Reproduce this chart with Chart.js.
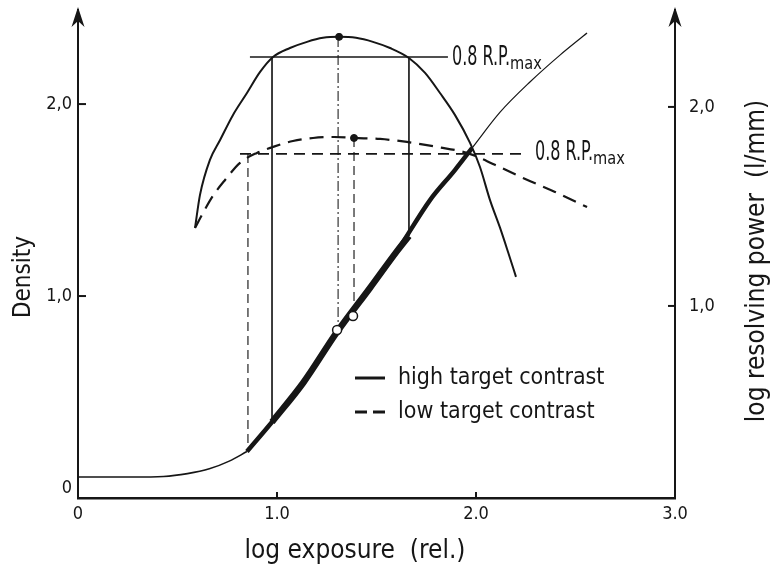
<!DOCTYPE html>
<html>
<head>
<meta charset="utf-8">
<script src="https://cdn.jsdelivr.net/npm/chart.js@4.4.1/dist/chart.umd.min.js"></script>
<style>
  html, body { margin: 0; padding: 0; background: #fff; }
</style>
</head>
<body>
<canvas id="chart" width="779" height="573"></canvas>
<script>
// ===== DATA =====
const xTicks = [0, 1, 2, 3];
const xTickLabels = ['0', '1.0', '2.0', '3.0'];
const densityTicks = [0, 1, 2];
const densityTickLabels = ['0', '1,0', '2,0'];
const rpTicks = [1, 2];
const rpTickLabels = ['1,0', '2,0'];

// characteristic curve (log exposure -> density)
const toeLogE = [0, 0.276, 0.43, 0.55, 0.66, 0.76, 0.849];
const toeDensity = [0.057, 0.057, 0.06, 0.075, 0.1, 0.14, 0.19];
const lowRangeLogE = [0.849, 0.975, 1.131, 1.302, 1.467, 1.603, 1.769, 1.894, 1.98];
const lowRangeDensity = [0.19, 0.344, 0.547, 0.813, 1.042, 1.234, 1.5, 1.656, 1.771];
const highRangeLogE = [0.975, 1.131, 1.302, 1.467, 1.603, 1.663];
const highRangeDensity = [0.344, 0.547, 0.813, 1.042, 1.234, 1.313];
const shoulderLogE = [1.98, 2.121, 2.271, 2.422, 2.558];
const shoulderDensity = [1.771, 1.958, 2.115, 2.255, 2.37];

// log resolving power, high target contrast
const rpHighLogE = [0.588, 0.613, 0.663, 0.714, 0.779, 0.849, 0.915, 0.98, 1.065, 1.151, 1.231, 1.312,
  1.397, 1.482, 1.568, 1.663, 1.744, 1.819, 1.894, 1.97, 2.02, 2.07, 2.121, 2.161, 2.201];
const rpHigh = [1.392, 1.558, 1.734, 1.834, 1.96, 2.07, 2.176, 2.251, 2.296, 2.327, 2.347, 2.352,
  2.347, 2.327, 2.296, 2.246, 2.171, 2.07, 1.96, 1.819, 1.698, 1.533, 1.392, 1.271, 1.146];

// log resolving power, low target contrast
const rpLowLogE = [0.588, 0.628, 0.678, 0.739, 0.814, 0.899, 0.98, 1.08, 1.181, 1.286, 1.387,
  1.518, 1.653, 1.804, 1.955, 2.095, 2.236, 2.397, 2.558];
const rpLow = [1.392, 1.467, 1.553, 1.633, 1.719, 1.769, 1.799, 1.829, 1.844, 1.849, 1.844,
  1.839, 1.824, 1.799, 1.769, 1.709, 1.643, 1.573, 1.497];

// 0.8 R.P.max levels and their extent on the exposure axis
const rpHighLevel = 2.251;
const rpHighLevelSpan = [0.864, 1.859];
const rpLowLevel = 1.764;
const rpLowLevelSpan = [0.814, 2.256];

// drop lines from the resolving power curves to the density curve (density units)
const highDropLogE = [0.975, 1.663];
const highDropTop = [2.245, 2.24];
const highDropBottom = [0.344, 1.313];
const peakDropLogE = [1.307];
const peakDropTop = [2.349];
const peakDropBottom = [0.823];
const lowDropLogE = [0.854, 1.387];
const lowDropTop = [1.74, 1.823];
const lowDropBottom = [0.193, 0.896];

// maxima and their projections
const peakLogE = [1.312, 1.387];
const peakRp = [2.352, 1.844];
const openLogE = [1.302, 1.382];
const openDensity = [0.823, 0.896];

const legendLabels = ['high target contrast', 'low target contrast'];
const levelLabel = '0.8 R.P.';
const levelSub = 'max';
const xTitle = 'log exposure  (rel.)';
const leftTitle = 'Density';
const rightTitle = 'log resolving power  (l/mm)';

// ===== STYLE =====
const INK = '#161616';
const FONT = '"DejaVu Sans Condensed", "DejaVu Sans", sans-serif';

const pts = (xs, ys) => xs.map((x, i) => ({ x, y: ys[i] }));

function curve(xs, ys, axis, width, dash) {
  return {
    data: pts(xs, ys),
    yAxisID: axis,
    showLine: true,
    borderColor: INK,
    borderWidth: width,
    borderDash: dash || [],
    borderCapStyle: 'butt',
    pointRadius: 0,
    cubicInterpolationMode: 'monotone',
  };
}

function drops(xs, tops, bottoms, width, dash) {
  return xs.map((x, i) => ({
    data: [{ x, y: tops[i] }, { x, y: bottoms[i] }],
    yAxisID: 'yD',
    showLine: true,
    borderColor: '#222',
    borderWidth: width,
    borderDash: dash,
    pointRadius: 0,
  }));
}

const datasets = [
  {
    data: pts(openLogE, openDensity), yAxisID: 'yD', showLine: false,
    pointRadius: 4.5, pointBackgroundColor: '#fff', pointBorderColor: INK, pointBorderWidth: 1.5,
  },
  {
    data: pts(peakLogE, peakRp), yAxisID: 'yR', showLine: false,
    pointRadius: 3.5, pointBackgroundColor: INK, pointBorderColor: INK, pointBorderWidth: 1,
  },
  curve(highRangeLogE, highRangeDensity, 'yD', 6.5),
  curve(lowRangeLogE, lowRangeDensity, 'yD', 4.5),
  curve(toeLogE, toeDensity, 'yD', 1.6),
  curve(shoulderLogE, shoulderDensity, 'yD', 1.2),
  curve(rpHighLogE, rpHigh, 'yR', 2),
  curve(rpLowLogE, rpLow, 'yR', 2.2, [14, 8]),
  curve(rpHighLevelSpan, [rpHighLevel, rpHighLevel], 'yR', 1.6),
  curve(rpLowLevelSpan, [rpLowLevel, rpLowLevel], 'yR', 1.8, [11, 7]),
  ...drops(highDropLogE, highDropTop, highDropBottom, 1, []),
  ...drops(peakDropLogE, peakDropTop, peakDropBottom, 1.1, [10, 3, 2, 3]),
  ...drops(lowDropLogE, lowDropTop, lowDropBottom, 1.2, [9, 5]),
];

// ===== DECORATIONS: inward ticks, arrows, titles, labels, legend =====
function narrowText(ctx, text, x, y, size, sx) {
  ctx.save();
  ctx.translate(x, y);
  ctx.scale(sx, 1);
  ctx.font = size + 'px ' + FONT;
  ctx.fillText(text, 0, 0);
  const w = ctx.measureText(text).width * sx;
  ctx.restore();
  return w;
}

const decor = {
  id: 'decor',
  afterDraw(chart) {
    const { ctx, chartArea: a, scales } = chart;
    const { x, yD, yR } = scales;
    ctx.save();
    ctx.strokeStyle = INK;
    ctx.fillStyle = INK;
    ctx.lineWidth = 2;

    // inward tick marks
    densityTicks.filter(v => v > 0).forEach(v => {
      const py = yD.getPixelForValue(v);
      ctx.beginPath(); ctx.moveTo(a.left, py); ctx.lineTo(a.left + 8, py); ctx.stroke();
    });
    rpTicks.forEach(v => {
      const py = yR.getPixelForValue(v);
      ctx.beginPath(); ctx.moveTo(a.right, py); ctx.lineTo(a.right - 7, py); ctx.stroke();
    });
    xTicks.filter(v => v > 0 && v < 3).forEach(v => {
      const px = x.getPixelForValue(v);
      ctx.beginPath(); ctx.moveTo(px, a.bottom); ctx.lineTo(px, a.bottom - 6); ctx.stroke();
    });

    // arrow heads on both vertical axes
    [a.left, a.right].forEach(px => {
      ctx.beginPath();
      ctx.moveTo(px, a.top - 3);
      ctx.lineTo(px - 6.5, a.top + 17);
      ctx.lineTo(px, a.top + 11);
      ctx.lineTo(px + 6.5, a.top + 17);
      ctx.closePath();
      ctx.fill();
    });

    // axis titles
    ctx.textBaseline = 'middle';
    ctx.textAlign = 'center';
    ctx.font = '26px ' + FONT;
    ctx.fillText(xTitle, 355, 551);
    ctx.save();
    ctx.translate(24, 277);
    ctx.rotate(-Math.PI / 2);
    ctx.font = '24px ' + FONT;
    ctx.fillText(leftTitle, 0, 0);
    ctx.restore();
    ctx.save();
    ctx.translate(757, 261);
    ctx.rotate(-Math.PI / 2);
    ctx.font = '26px ' + FONT;
    ctx.fillText(rightTitle, 0, 0);
    ctx.restore();

    // 0.8 R.P.max labels at the ends of the level lines
    ctx.textAlign = 'left';
    ctx.textBaseline = 'alphabetic';
    [[rpHighLevelSpan[1], rpHighLevel, 4, 8], [rpLowLevelSpan[1], rpLowLevel, 8, 6]].forEach(([lx, ly, gap, drop]) => {
      const px = x.getPixelForValue(lx) + gap;
      const py = yR.getPixelForValue(ly) + drop;
      const w = narrowText(ctx, levelLabel, px, py, 27, 0.66);
      narrowText(ctx, levelSub, px + w, py + 4, 18, 0.9);
    });

    // legend
    ctx.lineWidth = 3;
    ctx.beginPath(); ctx.moveTo(355, 378); ctx.lineTo(385, 378); ctx.stroke();
    ctx.setLineDash([12, 6]);
    ctx.beginPath(); ctx.moveTo(355, 412); ctx.lineTo(385, 412); ctx.stroke();
    ctx.setLineDash([]);
    ctx.textBaseline = 'middle';
    ctx.font = '23px ' + FONT;
    ctx.fillText(legendLabels[0], 398, 378);
    ctx.fillText(legendLabels[1], 398, 412);
    ctx.restore();
  },
};

const tickFont = { family: FONT, size: 18 };
// drop the label overhang padding so the plot area spans the full height
const noPad = s => { s.paddingTop = 0; s.paddingBottom = 0; s.paddingLeft = 0; s.paddingRight = 0; };

new Chart(document.getElementById('chart'), {
  type: 'scatter',
  data: { datasets },
  options: {
    responsive: false,
    animation: false,
    layout: { padding: { top: 10, right: 0, bottom: 0, left: 0 } },
    plugins: { legend: { display: false }, tooltip: { enabled: false } },
    scales: {
      x: {
        type: 'linear', min: 0, max: 3,
        afterBuildTicks: s => { s.ticks = xTicks.map(v => ({ value: v })); },
        afterFit: s => { s.height = 75; noPad(s); },
        grid: { display: false, drawTicks: false },
        border: { display: true, color: INK, width: 2.5 },
        ticks: {
          color: INK, font: tickFont, padding: 6, maxRotation: 0, autoSkip: false,
          callback: v => xTickLabels[xTicks.indexOf(v)],
        },
      },
      yD: {
        type: 'linear', position: 'left', min: -0.052, max: 2.49,
        afterBuildTicks: s => { s.ticks = densityTicks.map(v => ({ value: v })); },
        afterFit: s => { s.width = 78; noPad(s); },
        grid: { display: false, drawTicks: false },
        border: { display: true, color: INK, width: 2 },
        ticks: {
          color: INK, font: tickFont, padding: 6,
          callback: v => densityTickLabels[densityTicks.indexOf(v)],
        },
      },
      yR: {
        type: 'linear', position: 'right', min: 0.035, max: 2.487,
        afterBuildTicks: s => { s.ticks = rpTicks.map(v => ({ value: v })); },
        afterFit: s => { s.width = 104; noPad(s); },
        grid: { display: false, drawTicks: false },
        border: { display: true, color: INK, width: 2 },
        ticks: {
          color: INK, font: tickFont, padding: 14,
          callback: v => rpTickLabels[rpTicks.indexOf(v)],
        },
      },
    },
  },
  plugins: [decor],
});
</script>
</body>
</html>
